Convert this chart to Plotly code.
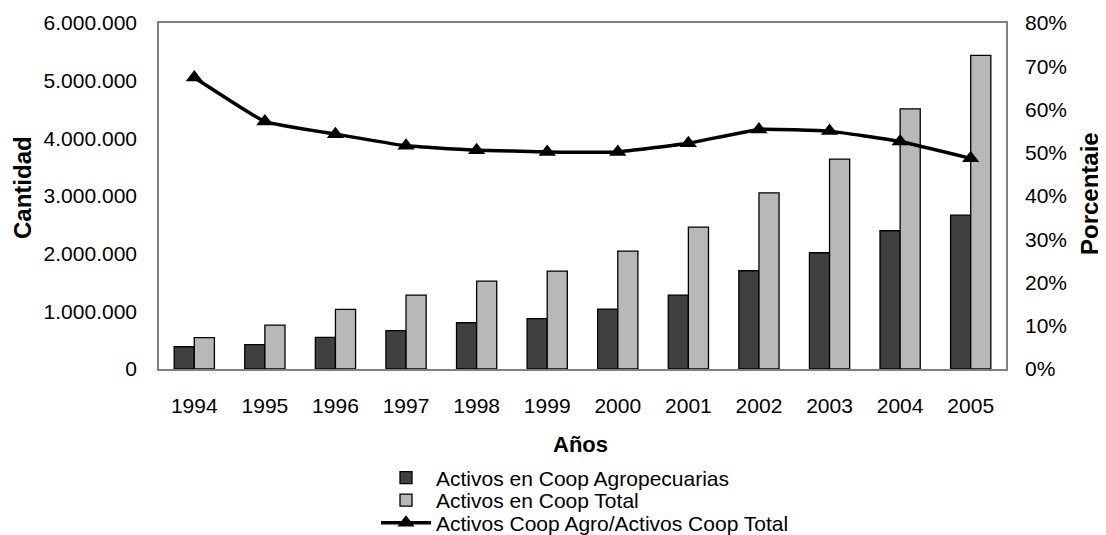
import plotly.graph_objects as go

years = ["1994", "1995", "1996", "1997", "1998", "1999", "2000",
         "2001", "2002", "2003", "2004", "2005"]
activos_agro = [386000, 421000, 549000, 664000, 802000, 872000, 1040000,
                1282000, 1704000, 2016000, 2397000, 2669000]
activos_total = [544000, 762000, 1035000, 1282000, 1525000, 1698000, 2045000,
                 2461000, 3055000, 3640000, 4511000, 5437000]
ratio = [0.674, 0.572, 0.543, 0.516, 0.506, 0.502, 0.502,
         0.522, 0.554, 0.550, 0.526, 0.487]

FONT = "Liberation Sans, Arial, sans-serif"

# the page shows the figure offset by 8px; work in screen pixels and shift
OFF = 8
W, H = 1106 - OFF, 535 - OFF
pl, pr, pt, pb = 159 - OFF, 1006 - OFF, 23 - OFF, 369 - OFF


def px_x(v):
    return (v - OFF - pl) / (pr - pl)


def px_y(v):
    return (pb - (v - OFF)) / (pb - pt)


fig = go.Figure()
fig.add_trace(go.Bar(
    x=years, y=activos_agro, name="Activos en Coop Agropecuarias",
    marker=dict(color="#404040", line=dict(color="black", width=1.3)),
    legend="legend",
))
fig.add_trace(go.Bar(
    x=years, y=activos_total, name="Activos en Coop Total",
    marker=dict(color="#b8b8b8", line=dict(color="black", width=1.3)),
    legend="legend2",
))
fig.add_trace(go.Scatter(
    x=years, y=ratio, name="Activos Coop Agro/Activos Coop Total",
    yaxis="y2", mode="lines+markers",
    line=dict(color="black", width=3.5, shape="spline", smoothing=0.3),
    marker=dict(symbol="triangle-up", size=15, color="black"),
    legend="legend3",
))

leg_common = dict(xanchor="left", yanchor="middle", orientation="v",
                  font=dict(size=21), itemwidth=50,
                  bgcolor="rgba(0,0,0,0)", borderwidth=0)

fig.update_layout(
    width=W, height=H,
    margin=dict(l=pl, r=W - pr, t=pt, b=H - pb, autoexpand=False),
    paper_bgcolor="white", plot_bgcolor="white",
    font=dict(family=FONT, size=21, color="black"),
    separators=",.",
    barmode="group", bargap=0.43, bargroupgap=0,
    showlegend=True,
    legend=dict(x=px_x(376), y=px_y(478), **leg_common),
    legend2=dict(x=px_x(376), y=px_y(500.5), **leg_common),
    legend3=dict(x=px_x(376), y=px_y(523), **leg_common),
    xaxis=dict(
        type="category", range=[-0.5, len(years) - 0.5],
        showgrid=False, showline=True, linecolor="#808080",
        linewidth=1.5, mirror=True, ticks="", ticklabelstandoff=17,
        tickfont=dict(size=21),
    ),
    yaxis=dict(
        range=[0, 6000000], dtick=1000000, tickformat=",d",
        showgrid=False, showline=True, linecolor="#808080", linewidth=1.5,
        mirror=True, ticks="", ticklabelstandoff=16, zeroline=False,
        tickfont=dict(size=21),
    ),
    yaxis2=dict(
        range=[0, 0.8], dtick=0.1, tickformat=".0%", overlaying="y",
        side="right", showgrid=False, showline=False, ticks="",
        ticklabelstandoff=18, zeroline=False, tickfont=dict(size=21),
    ),
    annotations=[
        dict(text="<b>Cantidad</b>", x=px_x(22), y=px_y(188),
             xref="paper", yref="paper", xanchor="center", yanchor="middle",
             showarrow=False, textangle=-90, font=dict(size=24)),
        dict(text="<b>Porcentaje</b>", x=px_x(1090), y=px_y(194),
             xref="paper", yref="paper", xanchor="center", yanchor="middle",
             showarrow=False, textangle=-90, font=dict(size=24)),
        dict(text="<b>Años</b>", x=px_x(580), y=px_y(444),
             xref="paper", yref="paper", xanchor="center", yanchor="middle",
             showarrow=False, font=dict(size=22)),
    ],
)

fig.write_html("out.html")
